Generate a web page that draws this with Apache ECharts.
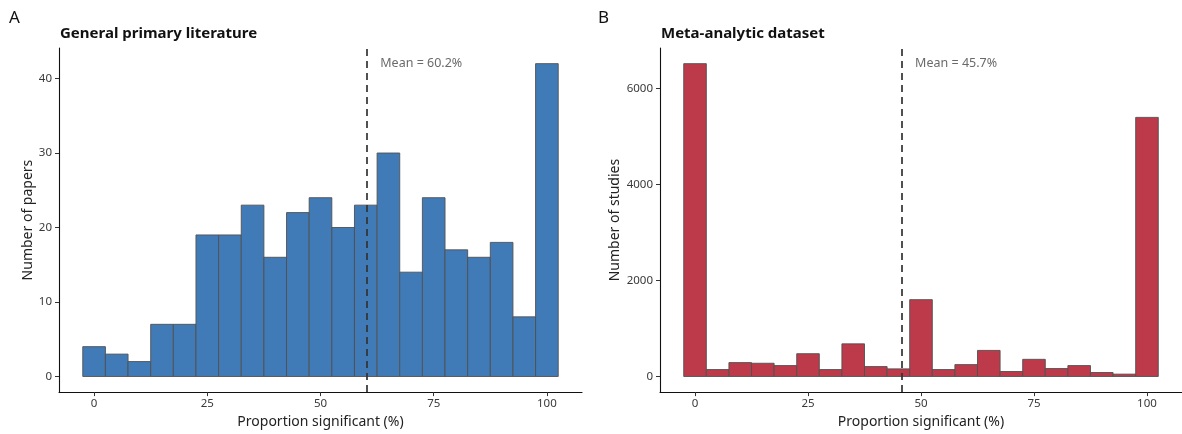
<!DOCTYPE html>
<html><head><meta charset="utf-8">
<script src="https://cdn.jsdelivr.net/npm/echarts@6/dist/echarts.min.js"></script>
<style>html,body{margin:0;padding:0;background:#fff}#c{width:1182px;height:434px}</style>
</head><body><div id="c"></div>
<script>
const binCenters = [0,5,10,15,20,25,30,35,40,45,50,55,60,65,70,75,80,85,90,95,100];
const papersCounts = [4,3,2,7,7,19,19,23,16,22,24,20,23,30,14,24,17,16,18,8,42];
const studiesCounts = [6520,144,289,275,227,474,144,680,206,158,1601,144,247,543,103,357,165,227,82,48,5400];
const binWidth = 5;
const xTicks = [0,25,50,75,100];
const yTicksA = [0,10,20,30,40];
const yTicksB = [0,2000,4000,6000];
const meanA = 60.2, meanB = 45.7;
const meanLabelA = 'Mean = 60.2%', meanLabelB = 'Mean = 45.7%';
const titleA = 'General primary literature', titleB = 'Meta-analytic dataset';
const yNameA = 'Number of papers', yNameB = 'Number of studies';
const xName = 'Proportion significant (%)';

const FONT = 'Noto Sans';
const chart = echarts.init(document.getElementById('c'), null, {renderer:'canvas'});

function expand(lo, hi){ const d=(hi-lo)*0.05; return [lo-d, hi+d]; }
const xr = expand(binCenters[0]-binWidth/2, binCenters[binCenters.length-1]+binWidth/2);
const yrA = expand(0, Math.max(...papersCounts));
const yrB = expand(0, Math.max(...studiesCounts));

function xAxisCfg(gi){
  return {gridIndex:gi, type:'value', min:xr[0], max:xr[1],
    name:xName, nameLocation:'middle', nameGap:21,
    nameTextStyle:{fontFamily:FONT, fontSize:14, color:'#222'},
    axisLine:{onZero:false, lineStyle:{color:'#111', width:1.1}},
    axisTick:{show:true, length:4, lineStyle:{color:'#333'}, customValues:xTicks},
    axisLabel:{fontFamily:FONT, fontSize:11.5, color:'#3a3a3a', margin:6, customValues:xTicks,
      formatter:function(v){return String(v);}},
    splitLine:{show:false}};
}
function yAxisCfg(gi, yr, ticks, name){
  return {gridIndex:gi, type:'value', min:yr[0], max:yr[1],
    name:name, nameLocation:'middle', nameGap: gi===0 ? 23 : 38,
    nameTextStyle:{fontFamily:FONT, fontSize:14, color:'#222'},
    axisLine:{show:true, onZero:false, lineStyle:{color:'#111', width:1.1}},
    axisTick:{show:true, length:4, lineStyle:{color:'#333'}, customValues:ticks},
    axisLabel:{fontFamily:FONT, fontSize:11.5, color:'#3a3a3a', margin:7, customValues:ticks,
      formatter:function(v){return String(v);}},
    splitLine:{show:false}};
}
function barSeries(gi, counts, color, mean){
  return {type:'custom', xAxisIndex:gi, yAxisIndex:gi,
    data: binCenters.map((c,i)=>[c, counts[i]]),
    encode:{x:0, y:1},
    renderItem:function(params, api){
      const x = api.value(0), y = api.value(1);
      const p0 = api.coord([x - binWidth/2, y]);
      const p1 = api.coord([x + binWidth/2, 0]);
      return {type:'rect', shape:{x:p0[0], y:p0[1], width:p1[0]-p0[0], height:p1[1]-p0[1]},
        style:{fill:color, stroke:'#505050', lineWidth:0.9}};
    },
    markLine:{silent:true, symbol:'none', label:{show:false},
      lineStyle:{type:[7,5], color:'#333', width:1.7}, data:[{xAxis:mean}], z:10},
    z:2};
}
function labelSeries(gi, mean, yv, text){
  return {type:'scatter', xAxisIndex:gi, yAxisIndex:gi, symbolSize:0, silent:true,
    data:[[mean+3, yv]],
    label:{show:true, position:'right', distance:0, formatter:text,
      fontFamily:FONT, fontSize:12.5, color:'#444'}, z:5};
}

chart.setOption({
  animation:false,
  textStyle:{fontFamily:FONT},
  title:[
    {text:'A', left:4, top:5, textStyle:{fontFamily:FONT, fontSize:17, fontWeight:'normal', color:'#111'}},
    {text:'B', left:593, top:5, textStyle:{fontFamily:FONT, fontSize:17, fontWeight:'normal', color:'#111'}},
    {text:titleA, left:55, top:21, textStyle:{fontFamily:FONT, fontSize:15, fontWeight:'bold', color:'#111'}},
    {text:titleB, left:656, top:21, textStyle:{fontFamily:FONT, fontSize:15, fontWeight:'bold', color:'#111'}}
  ],
  grid:[
    {left:59, top:48, width:523, height:347, containLabel:false},
    {left:660, top:48, width:522, height:347, containLabel:false}
  ],
  xAxis:[xAxisCfg(0), xAxisCfg(1)],
  yAxis:[yAxisCfg(0, yrA, yTicksA, yNameA), yAxisCfg(1, yrB, yTicksB, yNameB)],
  series:[
    barSeries(0, papersCounts, '#417bb7', meanA),
    barSeries(1, studiesCounts, '#bd3a4b', meanB),
    labelSeries(0, meanA, Math.max(...papersCounts), meanLabelA),
    labelSeries(1, meanB, Math.max(...studiesCounts), meanLabelB)
  ]
});
</script></body></html>
